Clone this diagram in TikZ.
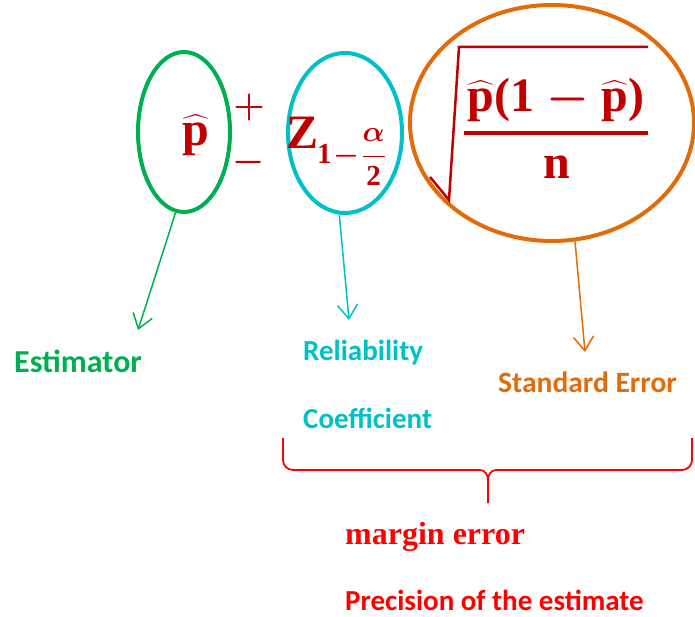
\RequirePackage{fix-cm}
\documentclass[tikz,border=0pt]{standalone}
\usepackage{amsmath,bm}
\usepackage{fontspec}
\setmainfont{Liberation Serif}
\setsansfont{Carlito}
\usetikzlibrary{arrows.meta,shapes.geometric}
\definecolor{estgreen}{HTML}{00B050}
\definecolor{relcyan}{HTML}{00C0C8}
\definecolor{seorange}{HTML}{E36C0A}
\definecolor{frmred}{HTML}{C00000}
\definecolor{mrgred}{HTML}{FF0000}
\newcommand{\fb}[1]{\textnormal{\bfseries #1}}

\begin{document}
\begin{tikzpicture}[x=1pt,y=-1pt,
 ring/.style={draw,ellipse,line width=4pt,inner sep=0pt},
 fm/.style={text=frmred,font=\fontsize{48}{56}\selectfont\boldmath,inner sep=0pt},
 lab/.style={anchor=base west,inner sep=0pt,font=\sffamily\bfseries\fontsize{29}{35}\selectfont},
 ar/.style={-{Straight Barb[length=14pt,width=20pt]},line width=1.5pt}]
\useasboundingbox (0,0) rectangle (695,617);
% the three parts of the interval
\node[ring,estgreen,minimum width=92pt,minimum height=160pt] (pring) at (184,132) {};
\node[ring,relcyan,minimum width=114pt,minimum height=160pt] (zring) at (345,133) {};
\node[ring,seorange,minimum width=284pt,minimum height=236pt] (sering) at (552,123) {};
\node[fm] (phat) at (196,135) {$\widehat{\fb{p}}$};
\node[fm,font=\fontsize{36}{42}\selectfont\boldmath] (plus) at (249,108) {$+$};
\node[fm,font=\fontsize{36}{42}\selectfont\boldmath] (minus) at (249,163) {$-$};
\node[fm] (zval) at (303,132.5) {\fb{Z}};
\node[fm,font=\fontsize{29}{33}\selectfont\boldmath,anchor=west] (zsub) at (317,157)
  {$\medmuskip=1mu\fb{1}-\genfrac{}{}{}{0}{\bm{\alpha}}{\fb{2}}$};
\node[fm] (num) at (556,100) {$\widehat{\fb{p}}\fb{(1}-\widehat{\fb{p}}\fb{)}$};
\node[fm] (den) at (557,167.5) {\fb{n}};
\draw[frmred,line width=3.5pt] (464,133) -- (648,133);
\draw[frmred,line width=2.5pt] (430,177) -- (449,200) -- (459,47) -- (648,47);
% arrows to the names
\coordinate (esttip) at (138,330);
\coordinate (reltip) at (349,320);
\coordinate (setip) at (585,352);
\draw[ar,estgreen] (pring.264) -- (esttip);
\draw[ar,relcyan] (zring.266) -- (reltip);
\draw[ar,seorange] (sering.281) -- (setip);
\node[lab,estgreen,font=\sffamily\bfseries\fontsize{32}{38}\selectfont] (est) at (14,372) {Estimator};
\node[lab,relcyan] (rel) at (303,360) {Reliability};
\node[lab,relcyan] (coef) at (303,428) {Coefficient};
\node[lab,seorange,font=\sffamily\bfseries\fontsize{29.5}{35}\selectfont] (se) at (498,392) {Standard Error};
% brace under the margin
\draw[mrgred,line width=1.8pt] (283,438) -- (283,460) to[out=-90,in=180] (293,470) -- (480,470)
  to[out=0,in=90] (488,480) -- (488,503);
\draw[mrgred,line width=1.8pt] (488,480) to[out=90,in=180] (496,470) -- (682,470)
  to[out=0,in=-90] (692,460) -- (692,438);
\node[anchor=base west,inner sep=0pt,mrgred,font=\bfseries\fontsize{32}{38}\selectfont] (margin) at (345,544) {margin error};
\node[lab,mrgred,font=\sffamily\bfseries\fontsize{29}{35}\selectfont] (prec) at (345,610) {Precision of the estimate};
\end{tikzpicture}
\end{document}
